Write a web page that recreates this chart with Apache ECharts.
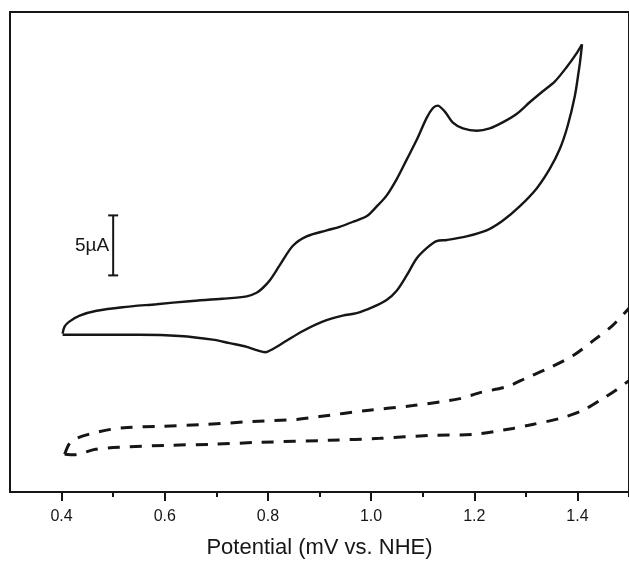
<!DOCTYPE html>
<html>
<head>
<meta charset="utf-8">
<script src="https://cdn.jsdelivr.net/npm/echarts@6/dist/echarts.min.js"></script>
<style>
  html, body { margin: 0; padding: 0; background: #fff; }
  #main { width: 629px; height: 564px; }
</style>
</head>
<body>
<div id="main"></div>
<script>
// potential (V) / current (uA, arbitrary offset)
const cvForward = [
  [0.402, 13.2], [0.406, 13.8], [0.415, 14.2], [0.435, 14.7], [0.468, 15.1],
  [0.518, 15.4], [0.584, 15.65], [0.648, 15.9], [0.712, 16.1], [0.759, 16.3],
  [0.778, 16.6], [0.790, 17.0], [0.803, 17.6], [0.823, 18.9], [0.848, 20.5],
  [0.875, 21.3], [0.914, 21.8], [0.939, 22.1], [0.964, 22.5], [0.992, 23.0],
  [1.011, 23.8], [1.030, 24.7], [1.050, 26.1], [1.069, 27.7], [1.089, 29.4],
  [1.108, 31.2], [1.120, 32.0], [1.129, 32.2], [1.143, 31.7], [1.158, 30.8],
  [1.178, 30.3], [1.205, 30.1], [1.230, 30.3], [1.255, 30.8], [1.282, 31.5],
  [1.308, 32.5], [1.333, 33.4], [1.356, 34.2], [1.379, 35.4], [1.399, 36.6],
  [1.409, 37.3]
]
const cvReverse = [
  [1.409, 37.3], [1.405, 35.8], [1.403, 35.2], [1.395, 33.0], [1.381, 30.5],
  [1.366, 28.6], [1.346, 26.9], [1.321, 25.3], [1.288, 23.8], [1.255, 22.6],
  [1.224, 21.8], [1.185, 21.3], [1.147, 21.0], [1.127, 20.9], [1.110, 20.4],
  [1.089, 19.5], [1.069, 18.05], [1.050, 16.8], [1.030, 16.0], [1.003, 15.4],
  [0.972, 14.9], [0.945, 14.7], [0.906, 14.2], [0.867, 13.4], [0.836, 12.6],
  [0.809, 11.9], [0.795, 11.65], [0.780, 11.8], [0.759, 12.1], [0.726, 12.4],
  [0.693, 12.7], [0.629, 13.0], [0.551, 13.1], [0.454, 13.1], [0.402, 13.1]
]
// blank electrolyte (dashed)
const blankForward = [
  [0.406, 3.15], [0.4155, 4.06], [0.429, 4.47], [0.452, 4.80], [0.495, 5.22],
  [0.528, 5.38], [0.590, 5.47], [0.681, 5.63], [0.770, 5.88], [0.856, 6.05],
  [0.900, 6.29], [0.992, 6.79], [1.081, 7.20], [1.172, 7.78], [1.211, 8.28],
  [1.263, 8.78], [1.302, 9.52], [1.346, 10.35], [1.391, 11.35], [1.430, 12.59],
  [1.469, 13.91], [1.500, 15.32]
]
const blankReverse = [
  [0.406, 3.15], [0.425, 3.1], [0.445, 3.31], [0.466, 3.56], [0.512, 3.73],
  [0.604, 3.89], [0.693, 3.98], [0.784, 4.14], [0.920, 4.31], [1.017, 4.47],
  [1.114, 4.72], [1.197, 4.80], [1.275, 5.30], [1.313, 5.63], [1.366, 6.13],
  [1.410, 6.79], [1.449, 7.78], [1.476, 8.53], [1.500, 9.28]
]
// 5 uA scale bar: [x, low, high]
const scaleBar = [[0.5, 18.05, 23.05]]
const scaleBarLabel = '5\u00b5A'

const majorTicks = [0.4, 0.6, 0.8, 1.0, 1.2, 1.4]
const minorTicks = [0.5, 0.7, 0.9, 1.1, 1.3, 1.5]

const ink = '#161616'
const chart = echarts.init(document.getElementById('main'))

const xBase = { type: 'value', min: 0.3, max: 1.5, position: 'bottom' }

chart.setOption({
  animation: false,
  grid: {
    left: 10, right: 0, top: 12, bottom: 69,
    show: true, borderColor: ink, borderWidth: 2
  },
  xAxis: [
    {
      ...xBase,
      name: 'Potential (mV vs. NHE)',
      nameLocation: 'middle',
      nameGap: 45,
      nameTextStyle: { fontFamily: 'Liberation Sans', fontSize: 22, color: ink },
      axisLine: { show: true, lineStyle: { color: ink, width: 2 } },
      axisTick: { show: true, inside: false, length: 9, lineStyle: { color: ink, width: 2 }, customValues: majorTicks },
      axisLabel: {
        customValues: majorTicks, margin: 17,
        fontFamily: 'Liberation Sans', fontSize: 16, color: ink,
        formatter: v => v.toFixed(1)
      },
      splitLine: { show: false }
    },
    {
      ...xBase,
      axisLine: { show: false },
      axisTick: { show: true, length: 5, lineStyle: { color: ink, width: 2 }, customValues: minorTicks },
      axisLabel: { show: false },
      splitLine: { show: false }
    }
  ],
  yAxis: {
    type: 'value', min: 0, max: 40,
    axisLine: { show: true, lineStyle: { color: ink, width: 2 } },
    axisTick: { show: false },
    axisLabel: { show: false },
    splitLine: { show: false }
  },
  series: [
    {
      type: 'line', data: cvForward, symbol: 'none', smooth: 0.3,
      lineStyle: { color: ink, width: 2.4 }
    },
    {
      type: 'line', data: cvReverse, symbol: 'none', smooth: 0.3,
      lineStyle: { color: ink, width: 2.4 }
    },
    {
      type: 'line', data: blankForward, symbol: 'none', smooth: 0.3,
      lineStyle: { color: ink, width: 3, type: [12, 10] }
    },
    {
      type: 'line', data: blankReverse, symbol: 'none', smooth: 0.3,
      lineStyle: { color: ink, width: 3, type: [12, 10] }
    },
    {
      type: 'custom',
      data: scaleBar,
      renderItem: (params, api) => {
        const top = api.coord([api.value(0), api.value(2)])
        const bot = api.coord([api.value(0), api.value(1)])
        const cap = 5
        const style = { stroke: ink, lineWidth: 2 }
        return {
          type: 'group',
          children: [
            { type: 'line', shape: { x1: top[0], y1: top[1], x2: bot[0], y2: bot[1] }, style },
            { type: 'line', shape: { x1: top[0] - cap, y1: top[1], x2: top[0] + cap, y2: top[1] }, style },
            { type: 'line', shape: { x1: bot[0] - cap, y1: bot[1], x2: bot[0] + cap, y2: bot[1] }, style },
            {
              type: 'text',
              style: {
                text: scaleBarLabel, x: top[0] - 4, y: (top[1] + bot[1]) / 2,
                align: 'right', verticalAlign: 'middle',
                fontFamily: 'Liberation Sans', fontSize: 19, fill: ink
              }
            }
          ]
        }
      }
    }
  ]
})
</script>
</body>
</html>
